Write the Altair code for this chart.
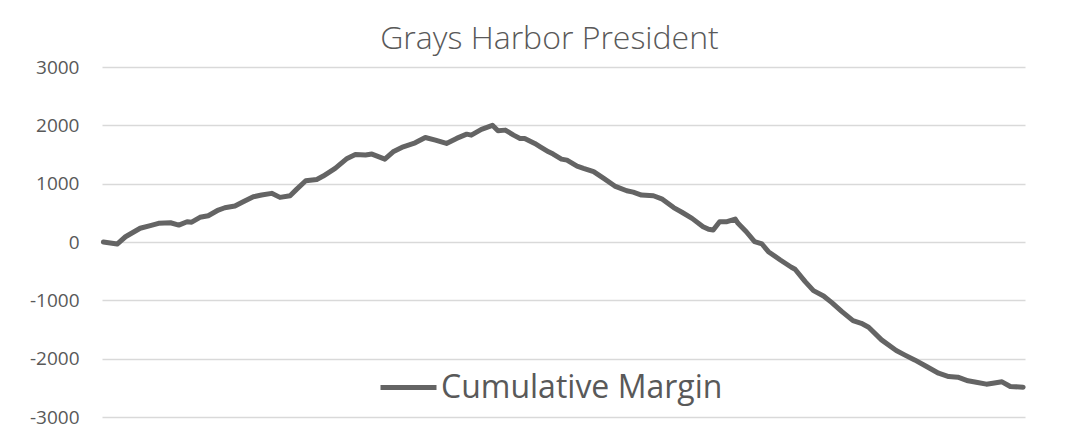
import altair as alt
import pandas as pd

# Share of ballots counted (%) and cumulative margin
pct_counted = [0, 1.5, 2.4, 4.0, 5.1, 6.0, 7.3, 8.2, 9.1, 9.6, 10.5, 11.4, 12.5, 13.2, 14.3,
               15.2, 16.3, 17.2, 18.3, 19.2, 20.3, 21.0, 22.0, 23.2, 23.9, 25.2, 26.5, 27.4,
               28.5, 29.2, 30.6, 31.5, 32.6, 33.9, 35.0, 36.1, 37.3, 38.4, 39.5, 40.0, 41.1,
               42.3, 42.9, 43.7, 44.6, 45.3, 45.8, 46.9, 47.5, 48.4, 48.9, 49.8, 50.4, 51.5,
               52.2, 53.3, 54.4, 55.6, 56.9, 57.6, 58.5, 59.8, 60.7, 62.0, 62.9, 64.0, 65.2,
               65.8, 66.3, 67.0, 67.8, 68.7, 69.0, 69.9, 70.8, 71.6, 72.3, 73.6, 74.8, 75.2,
               76.3, 77.2, 78.3, 79.2, 80.3, 81.5, 82.4, 83.2, 84.6, 86.2, 87.1, 88.2, 89.5,
               90.8, 91.9, 92.9, 94.0, 94.9, 96.0, 96.7, 97.7, 98.6, 100]
margin = [0, -35, 90, 235, 280, 320, 330, 290, 348, 340, 423, 450, 548, 587, 616,
          690, 776, 805, 834, 765, 793, 902, 1050, 1073, 1130, 1262, 1433, 1502,
          1490, 1507, 1421, 1546, 1632, 1700, 1792, 1747, 1690, 1776, 1849, 1832, 1930,
          2000, 1906, 1918, 1832, 1776, 1776, 1690, 1632, 1546, 1507, 1421, 1404, 1301,
          1262, 1205, 1090, 959, 878, 855, 805, 793, 740, 590, 510, 405, 262,
          217, 205, 348, 348, 394, 320, 176, 5, -34, -166, -308, -433, -467,
          -680, -834, -925, -1039, -1193, -1347, -1393, -1461, -1678, -1861, -1935, -2021, -2135,
          -2249, -2306, -2318, -2380, -2403, -2437, -2420, -2397, -2477, -2488]
series_name = "Cumulative Margin"
y_ticks = [-3000, -2000, -1000, 0, 1000, 2000, 3000]

df = pd.DataFrame({"pct": pct_counted, "margin": margin,
                   "series": [series_name] * len(margin)})

TEXT = "#595959"
FONT = "Open Sans"

chart = alt.Chart(df).mark_line(strokeWidth=5, strokeJoin="round", strokeCap="round").encode(
    x=alt.X("pct:Q", scale=alt.Scale(domain=[-0.15, 100.2], nice=False, zero=False), axis=None),
    y=alt.Y("margin:Q", scale=alt.Scale(domain=[-3000, 3000], nice=False),
            axis=alt.Axis(values=y_ticks, title=None, domain=False, ticks=False,
                          labelExpr="'' + datum.value",
                          labelPadding=23, labelFontSize=19, labelFont=FONT,
                          labelColor=TEXT, grid=True, gridColor="#d9d9d9",
                          gridWidth=1.3)),
    color=alt.Color("series:N", scale=alt.Scale(range=["#646464"]),
                    legend=alt.Legend(title=None, orient="none", legendX=276, legendY=290,
                                      symbolType="stroke", symbolSize=3136,
                                      symbolStrokeWidth=5, labelFontSize=32,
                                      labelFont=FONT, labelColor=TEXT, labelOffset=2,
                                      labelLimit=0, padding=0)),
).properties(
    width=923, height=350,
    title=alt.Title("Grays Harbor President", fontSize=32, font=FONT, fontWeight=300,
                    color=TEXT, anchor="middle", dx=-14, offset=2),
    padding={"left": 94, "top": 59, "right": 50, "bottom": 17},
    autosize=alt.AutoSizeParams(type="none"),
).configure_view(stroke=None)

chart.save("out.html", embed_options={"renderer": "svg", "actions": False})
